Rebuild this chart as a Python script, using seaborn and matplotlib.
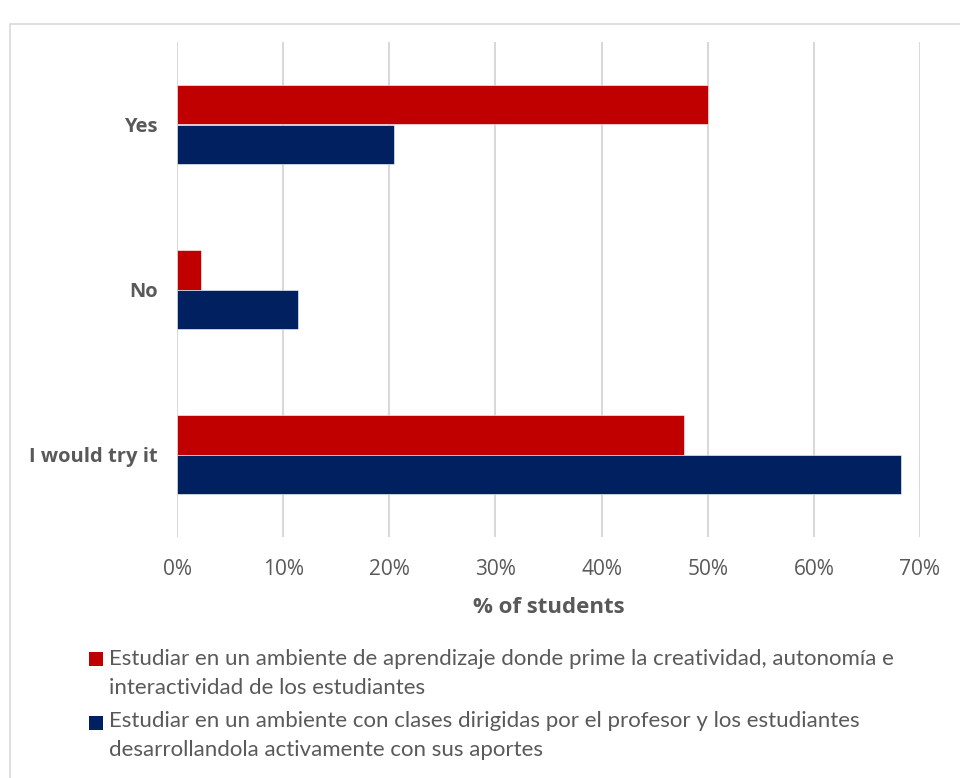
import matplotlib
matplotlib.use("Agg")
import matplotlib.pyplot as plt
from matplotlib.patches import Rectangle
import seaborn as sns
import pandas as pd

categories = ["Yes", "No", "I would try it"]
series_names = [
    "Estudiar en un ambiente de aprendizaje donde prime la creatividad, autonomía e\ninteractividad de los estudiantes",
    "Estudiar en un ambiente con clases dirigidas por el profesor y los estudiantes\ndesarrollandola activamente con sus aportes",
]
creativity_values = [50.0, 2.27, 47.73]
teacher_values = [20.45, 11.36, 68.18]
x_ticks = [0, 10, 20, 30, 40, 50, 60, 70]
x_tick_labels = ["0%", "10%", "20%", "30%", "40%", "50%", "60%", "70%"]
x_title = "% of students"
colors = ["#C00000", "#002060"]

df = pd.DataFrame({
    "category": categories * 2,
    "series": [series_names[0]] * 3 + [series_names[1]] * 3,
    "value": creativity_values + teacher_values,
})

sns.set_theme(style="white")
plt.rcParams["font.family"] = ["Open Sans", "DejaVu Sans"]

W, H = 960, 778
fig = plt.figure(figsize=(W / 100, H / 100), dpi=100)
ax = fig.add_axes([177 / W, 1 - 537 / H, 743 / W, 495 / H])

sns.barplot(data=df, y="category", x="value", hue="series", order=categories,
            hue_order=series_names, palette=colors, orient="h", width=0.48,
            ax=ax, legend=False, edgecolor="white", linewidth=0.4, saturation=1)

ax.set_xlim(0, 70)
ax.set_ylim(2.5, -0.5)
ax.set_xticks(x_ticks)
ax.set_xticklabels(x_tick_labels, fontsize=15, color="#595959")
ax.set_yticks(range(len(categories)))
ax.set_yticklabels(categories, fontsize=14.5, color="#595959", fontweight="bold")
ax.tick_params(axis="x", length=0, pad=16)
ax.tick_params(axis="y", length=0, pad=14)
ax.set_ylabel("")
ax.set_xlabel(x_title, fontsize=16, fontweight="bold", color="#595959", labelpad=12)
ax.grid(axis="x", color="#D9D9D9", linewidth=1.5)
ax.set_axisbelow(True)
for s in ax.spines.values():
    s.set_visible(False)

# outer chart border
fig.patches.append(Rectangle((10 / W, -0.1), 1.2, 1.1 - 24 / H, transform=fig.transFigure,
                             fill=False, edgecolor="#D9D9D9", linewidth=1.2))

# legend
leg_entries = [(652, 659, 688), (716, 721, 750)]
for (sq_top, y1, y2), name, col in zip(leg_entries, series_names, colors):
    fig.patches.append(Rectangle((89 / W, 1 - (sq_top + 14) / H), 14 / W, 14 / H,
                                 transform=fig.transFigure, facecolor=col, edgecolor="none"))
    l1, l2 = name.split("\n")
    fig.text(109 / W, 1 - y1 / H, l1, fontsize=16, color="#595959", va="center", ha="left",
             family=["Lato", "DejaVu Sans"])
    fig.text(109 / W, 1 - y2 / H, l2, fontsize=16, color="#595959", va="center", ha="left",
             family=["Lato", "DejaVu Sans"])

fig.savefig("out.png", dpi=100)
